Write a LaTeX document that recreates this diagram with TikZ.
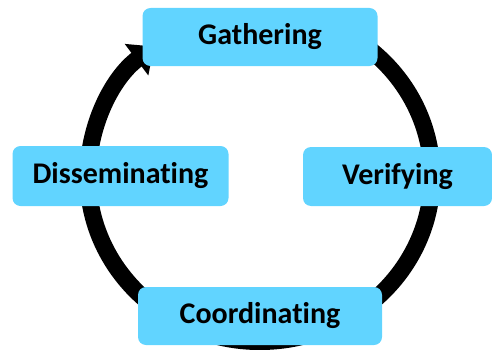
\documentclass[tikz,border=0pt]{standalone}
\usepackage{fontspec}
\setmainfont[Ligatures={NoCommon}]{Carlito}
\usetikzlibrary{arrows.meta}
\definecolor{boxblue}{RGB}{97,212,255}
\tikzset{stage/.style={fill=boxblue, rounded corners=8pt, inner sep=0pt, font=\fontsize{30}{33}\selectfont\bfseries}}
\begin{document}
\begin{tikzpicture}[x=1pt, y=1pt]
\useasboundingbox (0,0) rectangle (492,349);
\coordinate (hub) at (260,172.5);
\draw[line width=17pt, -{Triangle[width=38pt,length=22pt]}]
  (hub) ++(61:172 and 165) arc[start angle=61, end angle=-232, x radius=172, y radius=165];
\node[stage, minimum width=235pt, minimum height=58pt] (gather) at (260,312) {Gathering};
\node[stage, minimum width=216pt, minimum height=60pt] (dissem) at (120.5,173) {Disseminating};
\node[stage, minimum width=189pt, minimum height=59pt] (verify) at (397.5,172.5) {Verifying};
\node[stage, minimum width=244pt, minimum height=58pt] (coord) at (260,33) {Coordinating};
\end{tikzpicture}
\end{document}
